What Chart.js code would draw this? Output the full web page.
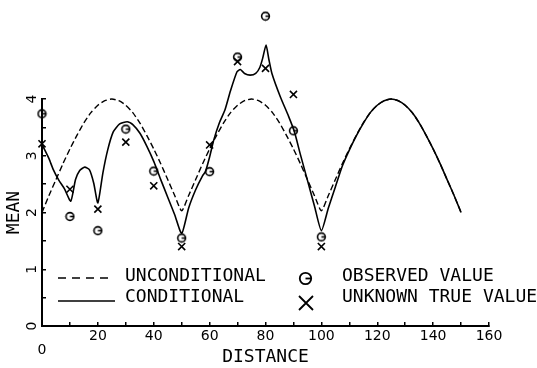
<!DOCTYPE html>
<html>
<head>
<meta charset="utf-8">
<script src="https://cdn.jsdelivr.net/npm/chart.js@4/dist/chart.umd.min.js"></script>
<style>
  html, body { margin: 0; padding: 0; background: #fff; }
  canvas { display: block; }
</style>
</head>
<body>
<canvas id="grafico" width="537" height="368"></canvas>
<script>
// unconditional mean (dashed)
const uncondX = [0, 2.5, 5, 7.5, 10, 12.5, 15, 17.5, 20, 22.5, 25, 27.5, 30, 32.5, 35, 37.5, 40, 42.5, 45, 47.5, 50,
  52.5, 55, 57.5, 60, 62.5, 65, 67.5, 70, 72.5, 75, 77.5, 80, 82.5, 85, 87.5, 90, 92.5, 95, 97.5, 100,
  102.5, 105, 107.5, 110, 112.5, 115, 117.5, 120, 122.5, 125, 127.5, 130, 132.5, 135, 137.5, 140, 142.5, 145, 147.5, 150];
const uncondY = [2.0, 2.3, 2.58, 2.86, 3.12, 3.36, 3.58, 3.76, 3.89, 3.97, 4.0, 3.97, 3.89, 3.76, 3.58, 3.36, 3.12, 2.86, 2.58, 2.3, 2.03,
  2.3, 2.58, 2.86, 3.12, 3.36, 3.58, 3.76, 3.89, 3.97, 4.0, 3.97, 3.89, 3.76, 3.58, 3.36, 3.12, 2.86, 2.58, 2.3, 2.03,
  2.3, 2.58, 2.86, 3.12, 3.36, 3.58, 3.76, 3.89, 3.97, 4.0, 3.97, 3.89, 3.76, 3.58, 3.36, 3.12, 2.86, 2.58, 2.3, 2.0];

// conditional mean (solid)
const condX = [0, 2.5, 4, 6, 8, 10.3, 12, 13.5, 15.3, 17, 18.5, 20, 21.8, 23.5, 25.5, 27.8, 30.5, 32.5, 35, 37.5, 40,
  42.5, 45, 47.5, 50, 52.5, 55, 57.5, 58.5, 60, 61.5, 63.5, 65.5, 67.5, 69.8, 71, 72.5, 74.5, 76.5, 78, 79, 80.2,
  81.2, 82.3, 85.3, 88.3, 90.3, 92.5, 95, 97.5, 100, 102.5, 105, 107.5, 110, 112.5, 115, 117.5, 120, 122.5, 125,
  127.5, 130, 132.5, 135, 137.5, 140, 142.5, 145, 147.5, 150];
const condY = [3.2, 2.95, 2.76, 2.57, 2.42, 2.2, 2.58, 2.74, 2.8, 2.75, 2.52, 2.17, 2.7, 3.1, 3.42, 3.56, 3.6, 3.55, 3.4, 3.17, 2.9,
  2.58, 2.27, 1.96, 1.63, 2.08, 2.4, 2.65, 2.72, 2.98, 3.28, 3.58, 3.81, 4.15, 4.48, 4.52, 4.45, 4.42, 4.45, 4.56, 4.72, 4.95,
  4.7, 4.45, 4.04, 3.69, 3.43, 3.02, 2.57, 2.12, 1.68, 2.08, 2.45, 2.82, 3.1, 3.35, 3.57, 3.76, 3.89, 3.97, 4.0,
  3.97, 3.89, 3.76, 3.58, 3.36, 3.12, 2.86, 2.58, 2.3, 2.0];

// sample locations
const sitesX = [0, 10, 20, 30, 40, 50, 60, 70, 80, 90, 100];
const observed = [3.74, 1.93, 1.68, 3.47, 2.73, 1.55, 2.72, 4.74, 5.46, 3.44, 1.57];
const trueVals = [3.21, 2.41, 2.06, 3.24, 2.47, 1.40, 3.19, 4.66, 4.54, 4.08, 1.40];

const xTicksShown = [20, 40, 60, 80, 100, 120, 140, 160];

const FUENTE = "'DejaVu Sans Mono', monospace";

function pares(xs, ys) {
  return xs.map((x, i) => ({ x: x, y: ys[i] }));
}

// circle with a bar, like the plotter "G" symbol
function marcaObs(size, lw) {
  const c = document.createElement("canvas");
  c.width = c.height = size;
  const g = c.getContext("2d");
  const r = size / 2 - lw;
  g.strokeStyle = "#000";
  g.lineWidth = lw;
  g.beginPath();
  g.arc(size / 2, size / 2, r, 0, Math.PI * 2);
  g.stroke();
  g.beginPath();
  g.moveTo(size / 2, size / 2);
  g.lineTo(size / 2 + r, size / 2);
  g.stroke();
  return c;
}

const obsChica = marcaObs(11, 1.6);
const obsGrande = marcaObs(15, 1.8);

// marks above y=4 sit outside the axis box, so let them draw there
const sinRecorte = {
  id: "sinRecorte",
  beforeDatasetsDraw(chart) {
    chart._areaGuardada = chart.chartArea;
    chart.chartArea = Object.assign({}, chart.chartArea, { top: 0 });
  },
  afterDatasetsDraw(chart) {
    chart.chartArea = chart._areaGuardada;
  }
};

const leyenda = {
  id: "leyenda",
  afterDraw(chart) {
    const ctx = chart.ctx;
    ctx.save();
    ctx.strokeStyle = "#000";
    ctx.fillStyle = "#000";
    ctx.lineWidth = 1.6;
    ctx.setLineDash([8, 6]);
    ctx.beginPath(); ctx.moveTo(58, 278); ctx.lineTo(114, 278); ctx.stroke();
    ctx.setLineDash([]);
    ctx.beginPath(); ctx.moveTo(58, 301); ctx.lineTo(115, 301); ctx.stroke();
    ctx.drawImage(obsGrande, 298, 271);
    ctx.lineWidth = 1.8;
    ctx.beginPath();
    ctx.moveTo(299, 296); ctx.lineTo(313, 310);
    ctx.moveTo(313, 296); ctx.lineTo(299, 310);
    ctx.stroke();
    ctx.font = "18px " + FUENTE;
    ctx.textBaseline = "middle";
    ctx.textAlign = "left";
    ctx.fillText("UNCONDITIONAL", 125, 276);
    ctx.fillText("CONDITIONAL", 125, 297);
    ctx.fillText("OBSERVED VALUE", 342, 276);
    ctx.fillText("UNKNOWN TRUE VALUE", 342, 297);
    ctx.restore();
  }
};

new Chart(document.getElementById("grafico").getContext("2d"), {
  type: "scatter",
  data: {
    datasets: [
      {
        label: "UNCONDITIONAL",
        data: pares(uncondX, uncondY),
        showLine: true,
        borderColor: "#000",
        borderWidth: 1.4,
        borderDash: [6, 3],
        pointRadius: 0,
        tension: 0.2,
        clip: false
      },
      {
        label: "CONDITIONAL",
        data: pares(condX, condY),
        showLine: true,
        borderColor: "#000",
        borderWidth: 1.6,
        pointRadius: 0,
        tension: 0.2,
        clip: false
      },
      {
        label: "OBSERVED VALUE",
        data: pares(sitesX, observed),
        pointStyle: obsChica,
        pointRadius: 5,
        clip: false
      },
      {
        label: "UNKNOWN TRUE VALUE",
        data: pares(sitesX, trueVals),
        pointStyle: "crossRot",
        pointRadius: 5,
        borderColor: "#000",
        borderWidth: 1.6,
        clip: false
      }
    ]
  },
  options: {
    responsive: false,
    animation: false,
    devicePixelRatio: 1,
    layout: { padding: { top: 99, right: 48, left: 0, bottom: 0 } },
    plugins: { legend: { display: false }, tooltip: { enabled: false } },
    scales: {
      x: {
        type: "linear",
        min: 0,
        max: 160,
        afterFit: s => { s.height = 42; },
        border: { display: true, color: "#000", width: 2 },
        grid: { drawOnChartArea: false, tickLength: -4, color: "#000", lineWidth: 1.5 },
        ticks: {
          stepSize: 10,
          autoSkip: false,
          maxRotation: 0,
          padding: 7,
          color: "#000",
          font: { family: "'DejaVu Sans', sans-serif", size: 14, lineHeight: 1 },
          callback: v => v === 0 ? ["", "0"] : (xTicksShown.includes(v) ? String(v) : "")
        },
        title: {
          display: true,
          text: "DISTANCE",
          color: "#000",
          font: { family: FUENTE, size: 18 },
          padding: { top: 0, bottom: 0 }
        }
      },
      y: {
        min: 0,
        max: 4,
        afterFit: s => { s.width = 42; },
        border: { display: true, color: "#000", width: 2 },
        grid: { drawOnChartArea: false, tickLength: -4, color: "#000", lineWidth: 1.5 },
        ticks: {
          stepSize: 0.5,
          autoSkip: false,
          minRotation: 90,
          maxRotation: 90,
          crossAlign: "center",
          padding: 9,
          color: "#000",
          font: { family: "'DejaVu Sans', sans-serif", size: 14 },
          callback: v => Number.isInteger(v) ? String(v) : ""
        },
        title: {
          display: true,
          text: "MEAN",
          color: "#000",
          font: { family: FUENTE, size: 18 },
          padding: { top: 4, bottom: 0 }
        }
      }
    }
  },
  plugins: [sinRecorte, leyenda]
});
</script>
</body>
</html>
